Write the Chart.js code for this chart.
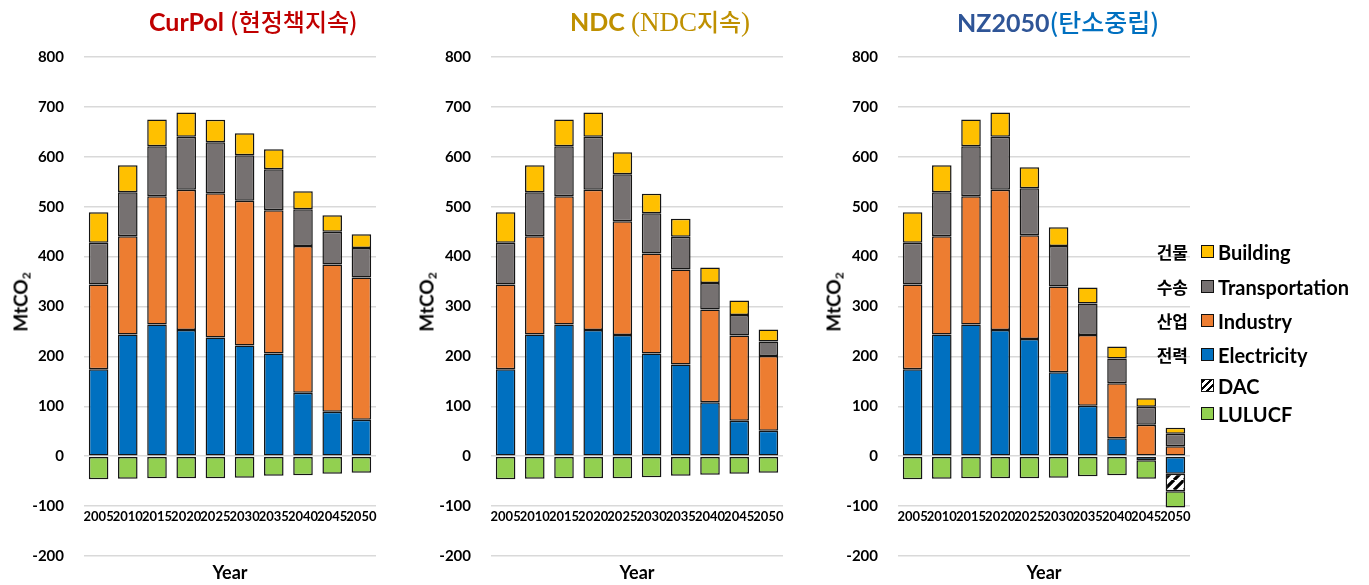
<!DOCTYPE html>
<html>
<head>
<meta charset="utf-8">
<script src="https://cdn.jsdelivr.net/npm/chart.js@4.4.1/dist/chart.umd.min.js"></script>
<style>
  html, body { margin: 0; padding: 0; background: #fff; }
  body { width: 1369px; height: 585px; position: relative; overflow: hidden; font-family: Lato, "Noto Sans", sans-serif; }
  canvas.panel { position: absolute; top: 0; }
  .title { position: absolute; top: 3px; white-space: nowrap; font-size: 25px; line-height: 36px; font-weight: bold; }
  .title .ko { font-family: "Noto Sans CJK KR", sans-serif; font-weight: 500; font-size: 24px; }
  .title .serif { font-family: "Liberation Serif", "DejaVu Serif", serif; font-weight: normal; font-size: 27px; }
  .ytitle { position: absolute; top: 302px; font-weight: bold; font-size: 19px; color: #000; white-space: nowrap;
            transform: translate(-50%, -50%) rotate(-90deg); }
  .ytitle sub { font-size: 12px; vertical-align: -3px; line-height: 0; }
  .xtitle { position: absolute; top: 561px; font-weight: bold; font-size: 18px; color: #000; transform: translateX(-50%); white-space: nowrap; }
  .leg { position: absolute; left: 0; top: 0; }
  .leg .row { position: absolute; height: 24px; line-height: 24px; white-space: nowrap; }
  .leg .ko { position: absolute; width: 60px; text-align: right; font-family: "Noto Sans CJK KR", sans-serif; font-weight: bold; font-size: 17px; }
  .leg .box { position: absolute; width: 11px; height: 11px; border: 1.5px solid #111; top: 5px; }
  .leg .txt { position: absolute; font-weight: bold; font-size: 20px; color: #000; }
</style>
</head>
<body>
<canvas id="c1" class="panel" width="390" height="585" style="left:0px"></canvas>
<canvas id="c2" class="panel" width="390" height="585" style="left:407px"></canvas>
<canvas id="c3" class="panel" width="390" height="585" style="left:814px"></canvas>

<div class="title" style="left:149px;color:#c00000">CurPol <span class="ko">(현정책지속)</span></div>
<div class="title" style="left:570px;color:#bf9000">NDC <span class="serif">(NDC</span><span class="ko">지속</span><span class="serif">)</span></div>
<div class="title" style="left:957px;color:#2f5597">NZ2050<span class="ko" style="color:#0070c0;font-size:25px">(탄소중립)</span></div>

<div class="ytitle" style="left:20px">MtCO<sub>2</sub></div>
<div class="ytitle" style="left:426px">MtCO<sub>2</sub></div>
<div class="ytitle" style="left:833px">MtCO<sub>2</sub></div>

<div class="xtitle" style="left:230px">Year</div>
<div class="xtitle" style="left:637px">Year</div>
<div class="xtitle" style="left:1044px">Year</div>

<div id="legend" class="leg"></div>

<script>
// Years on the category axis
const years = ['2005', '2010', '2015', '2020', '2025', '2030', '2035', '2040', '2045', '2050'];
const yTicks = [-200, -100, 0, 100, 200, 300, 400, 500, 600, 700, 800];

// Sector emissions, MtCO2 — current policy scenario
const curElectricity    = [174, 244, 264, 253, 238, 222, 206, 127, 89, 73];
const curIndustry       = [170, 197, 257, 281, 289, 290, 287, 294, 295, 285];
const curTransportation = [84, 88, 100, 106, 102, 91, 82, 74, 66, 59];
const curBuilding       = [61, 54, 54, 49, 45, 44, 40, 36, 33, 28];
const curLULUCF         = [-46, -45, -44, -44, -44, -43, -39, -38, -35, -33];

// NDC scenario
const ndcElectricity    = [174, 244, 264, 253, 243, 206, 184, 108, 71, 51];
const ndcIndustry       = [170, 197, 257, 281, 228, 200, 190, 186, 171, 150];
const ndcTransportation = [84, 88, 100, 106, 94, 81, 66, 53, 41, 29];
const ndcBuilding       = [61, 54, 54, 49, 44, 39, 36, 31, 29, 24];
const ndcLULUCF         = [-46, -45, -44, -44, -44, -42, -39, -37, -35, -33];

// Net-zero 2050 scenario
const nzElectricity     = [174, 244, 264, 253, 235, 168, 101, 36, -8, -35];
const nzIndustry        = [170, 197, 257, 281, 208, 172, 142, 110, 63, 20];
const nzTransportation  = [84, 88, 100, 106, 94, 81, 63, 50, 36, 25];
const nzBuilding        = [61, 54, 54, 49, 42, 38, 32, 24, 17, 12];
const nzDAC             = [null, null, null, null, null, null, null, null, null, -35];
const nzLULUCF          = [-46, -45, -44, -44, -44, -43, -40, -38, -37, -33];

const COLORS = {
  Building: '#ffc000',
  Transportation: '#767171',
  Industry: '#ed7d31',
  Electricity: '#0070c0',
  LULUCF: '#92d050'
};

// Diagonal black/white hatch used for direct air capture
function makeHatch() {
  const s = 10;
  const c = document.createElement('canvas');
  c.width = s; c.height = s;
  const g = c.getContext('2d');
  g.fillStyle = '#fff';
  g.fillRect(0, 0, s, s);
  g.strokeStyle = '#000';
  g.lineWidth = 3.2;
  g.beginPath();
  for (let k = -1; k <= 1; k++) {
    g.moveTo(k * s, s);
    g.lineTo(k * s + s, 0);
  }
  g.stroke();
  return g.createPattern(c, 'repeat');
}
const hatch = makeHatch();

function ds(label, data, color) {
  return { label, data, backgroundColor: color };
}

function buildPanel(id, sets) {
  return new Chart(document.getElementById(id), {
    type: 'bar',
    data: { labels: years, datasets: sets },
    options: {
      responsive: false,
      animation: false,
      devicePixelRatio: 1,
      layout: { padding: { top: 57, bottom: 29, left: 0, right: 14 } },
      plugins: { legend: { display: false }, tooltip: { enabled: false } },
      datasets: {
        bar: {
          categoryPercentage: 1,
          barPercentage: 0.67,
          borderColor: '#151515',
          borderWidth: 1.5,
          borderSkipped: false,
          inflateAmount: 0
        }
      },
      scales: {
        x: {
          stacked: true,
          position: { y: -100 },
          grid: { display: false, drawTicks: false },
          border: { display: false },
          ticks: {
            autoSkip: false, maxRotation: 0, minRotation: 0, padding: 3,
            color: '#000', font: { family: 'Lato', weight: 'bold', size: 13 }
          },
          afterFit(scale) { scale.height = 0; }
        },
        y: {
          stacked: true,
          min: yTicks[0],
          max: yTicks[yTicks.length - 1],
          afterBuildTicks(scale) { scale.ticks = yTicks.map(v => ({ value: v })); },
          ticks: { padding: 20, color: '#000', font: { family: 'Lato', weight: 'bold', size: 15 } },
          grid: { color: '#d9d9d9', lineWidth: 1.5, drawTicks: false },
          border: { display: false },
          afterFit(scale) { scale.width = 84; }
        }
      }
    }
  });
}

buildPanel('c1', [
  ds('Electricity', curElectricity, COLORS.Electricity),
  ds('Industry', curIndustry, COLORS.Industry),
  ds('Transportation', curTransportation, COLORS.Transportation),
  ds('Building', curBuilding, COLORS.Building),
  ds('LULUCF', curLULUCF, COLORS.LULUCF)
]);

buildPanel('c2', [
  ds('Electricity', ndcElectricity, COLORS.Electricity),
  ds('Industry', ndcIndustry, COLORS.Industry),
  ds('Transportation', ndcTransportation, COLORS.Transportation),
  ds('Building', ndcBuilding, COLORS.Building),
  ds('LULUCF', ndcLULUCF, COLORS.LULUCF)
]);

buildPanel('c3', [
  ds('Electricity', nzElectricity, COLORS.Electricity),
  ds('Industry', nzIndustry, COLORS.Industry),
  ds('Transportation', nzTransportation, COLORS.Transportation),
  ds('Building', nzBuilding, COLORS.Building),
  ds('DAC', nzDAC, hatch),
  ds('LULUCF', nzLULUCF, COLORS.LULUCF)
]);

// Legend with Korean sector names
const legendItems = [
  { ko: '건물', en: 'Building', fill: COLORS.Building, y: 252 },
  { ko: '수송', en: 'Transportation', fill: COLORS.Transportation, y: 287 },
  { ko: '산업', en: 'Industry', fill: COLORS.Industry, y: 321 },
  { ko: '전력', en: 'Electricity', fill: COLORS.Electricity, y: 355 },
  { ko: '', en: 'DAC', fill: 'repeating-linear-gradient(135deg, #000 0 2.5px, #fff 2.5px 5px)', y: 386 },
  { ko: '', en: 'LULUCF', fill: COLORS.LULUCF, y: 414 }
];
const leg = document.getElementById('legend');
legendItems.forEach(it => {
  const row = document.createElement('div');
  row.className = 'row';
  row.style.left = '1130px';
  row.style.top = (it.y - 12) + 'px';
  row.style.width = '240px';
  row.innerHTML =
    '<span class="ko" style="left:-2px">' + it.ko + '</span>' +
    '<span class="box" style="left:71px;background:' + it.fill + '"></span>' +
    '<span class="txt" style="left:88px">' + it.en + '</span>';
  leg.appendChild(row);
});
</script>
</body>
</html>
